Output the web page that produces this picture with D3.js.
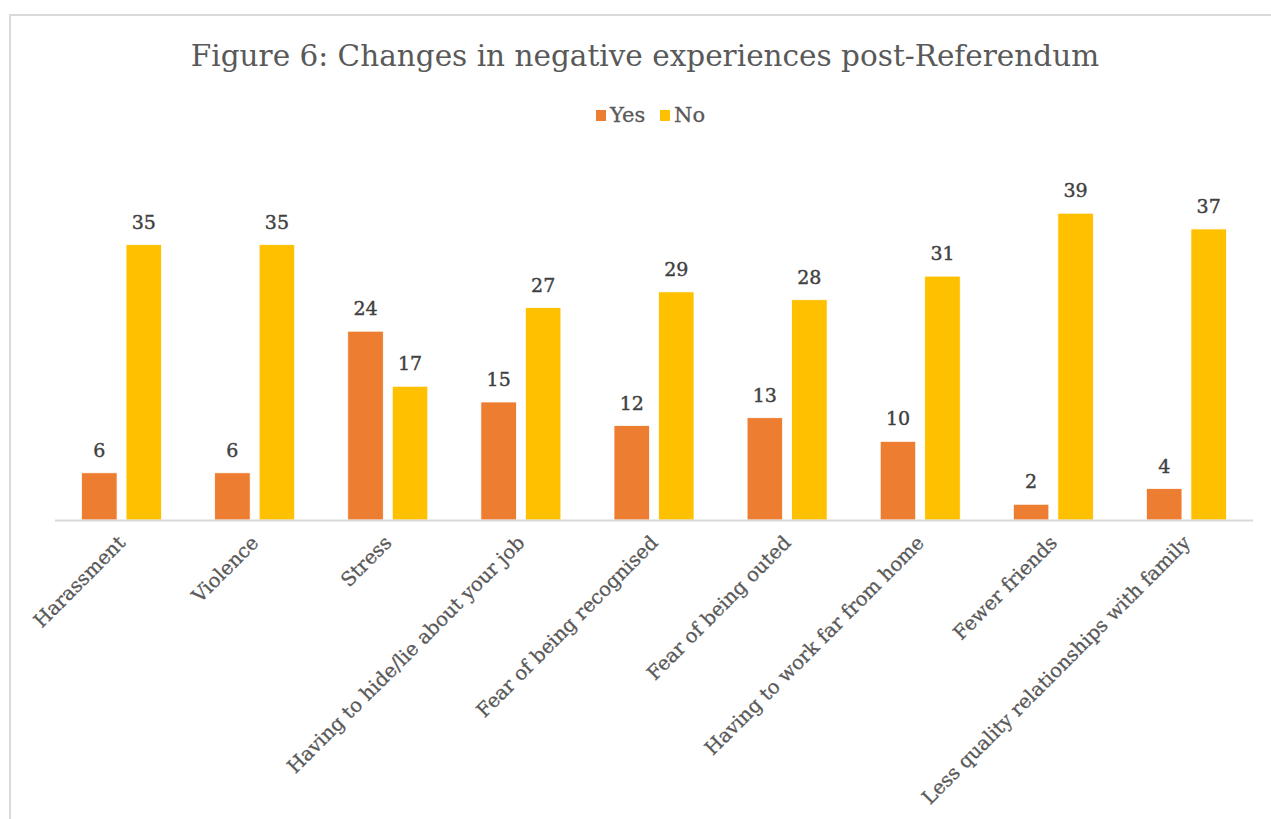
<!DOCTYPE html>
<html>
<head>
<meta charset="utf-8">
<script src="https://cdn.jsdelivr.net/npm/d3@7"></script>
<style>
  html, body { margin: 0; padding: 0; background: #fff; }
  svg { display: block; }
</style>
</head>
<body>
<svg id="chart" width="1271" height="819"></svg>
<script>
// Survey responses per negative experience
const categories = [
  "Harassment",
  "Violence",
  "Stress",
  "Having to hide/lie about your job",
  "Fear of being recognised",
  "Fear of being outed",
  "Having to work far from home",
  "Fewer friends",
  "Less quality relationships with family"
];
const seriesNames = ["Yes", "No"];
const yesValues = [6, 6, 24, 15, 12, 13, 10, 2, 4];
const noValues = [35, 35, 17, 27, 29, 28, 31, 39, 37];
const seriesColors = ["#ED7D31", "#FFC000"];

const titleText = "Figure 6: Changes in negative experiences post-Referendum";
const fontFamily = "'DejaVu Serif', serif";

const svg = d3.select("#chart");

// Chart frame
svg.append("path")
  .attr("d", "M10,830 L10,15 L1280,15")
  .attr("fill", "none")
  .attr("stroke", "#d9d9d9")
  .attr("stroke-width", 2);

const plot = { left: 55, right: 1253, top: 166, bottom: 520 };

const x = d3.scaleBand()
  .domain(categories)
  .range([plot.left, plot.right])
  .paddingInner(0)
  .paddingOuter(0);

const y = d3.scaleLinear()
  .domain([0, 45])
  .range([plot.bottom, plot.top]);

const barW = 35.5;
const barGap = 9;
const sub = d3.scaleOrdinal()
  .domain(seriesNames)
  .range([-(barGap / 2 + barW), barGap / 2]);

const rows = categories.map((c, i) => ({
  category: c,
  values: [
    { series: "Yes", value: yesValues[i] },
    { series: "No", value: noValues[i] }
  ]
}));

const color = d3.scaleOrdinal().domain(seriesNames).range(seriesColors);

// Title
svg.append("text")
  .attr("x", 645)
  .attr("y", 66)
  .attr("text-anchor", "middle")
  .attr("font-family", fontFamily)
  .attr("font-size", 29.5)
  .attr("fill", "#595959")
  .text(titleText);

// Legend
const legend = svg.append("g")
  .attr("font-family", fontFamily)
  .attr("font-size", 21)
  .attr("fill", "#595959")
  .attr("stroke", "#595959")
  .attr("stroke-width", 0.3);
const legendItems = [{ name: "Yes", x: 596 }, { name: "No", x: 660 }];
legendItems.forEach(item => {
  legend.append("rect")
    .attr("x", item.x).attr("y", 110)
    .attr("width", 10).attr("height", 11)
    .attr("stroke", "none")
    .attr("fill", color(item.name));
  legend.append("text")
    .attr("x", item.x + 14).attr("y", 122)
    .text(item.name);
});

// Bars
const groups = svg.append("g").selectAll("g")
  .data(rows)
  .join("g")
  .attr("transform", d => `translate(${x(d.category) + x.bandwidth() / 2},0)`);

groups.selectAll("rect")
  .data(d => d.values)
  .join("rect")
  .attr("x", d => sub(d.series))
  .attr("y", d => y(d.value))
  .attr("width", barW)
  .attr("height", d => y(0) - y(d.value))
  .attr("fill", d => color(d.series))
  .attr("stroke", "#ffffff")
  .attr("stroke-width", 0.75);

// Value labels
groups.selectAll("text.value")
  .data(d => d.values)
  .join("text")
  .attr("class", "value")
  .attr("x", d => sub(d.series) + barW / 2)
  .attr("y", d => y(d.value) - 16)
  .attr("text-anchor", "middle")
  .attr("font-family", fontFamily)
  .attr("font-size", 19)
  .attr("fill", "#404040")
  .attr("stroke", "#404040")
  .attr("stroke-width", 0.4)
  .text(d => d.value);

// Category axis
const xAxis = svg.append("g")
  .attr("transform", `translate(0,${plot.bottom})`)
  .call(d3.axisBottom(x).tickSize(0).tickPadding(0));

xAxis.select(".domain")
  .attr("stroke", "#d9d9d9")
  .attr("stroke-width", 2)
  .attr("d", `M${plot.left},0.5H${plot.right}`);

xAxis.selectAll(".tick text")
  .attr("font-family", fontFamily)
  .attr("font-size", 19.5)
  .attr("fill", "#595959")
  .attr("stroke", "#595959")
  .attr("stroke-width", 0.3)
  .attr("text-anchor", "end")
  .attr("dy", null)
  .attr("y", null)
  .attr("transform", "translate(5,24) rotate(-45)");
</script>
</body>
</html>
